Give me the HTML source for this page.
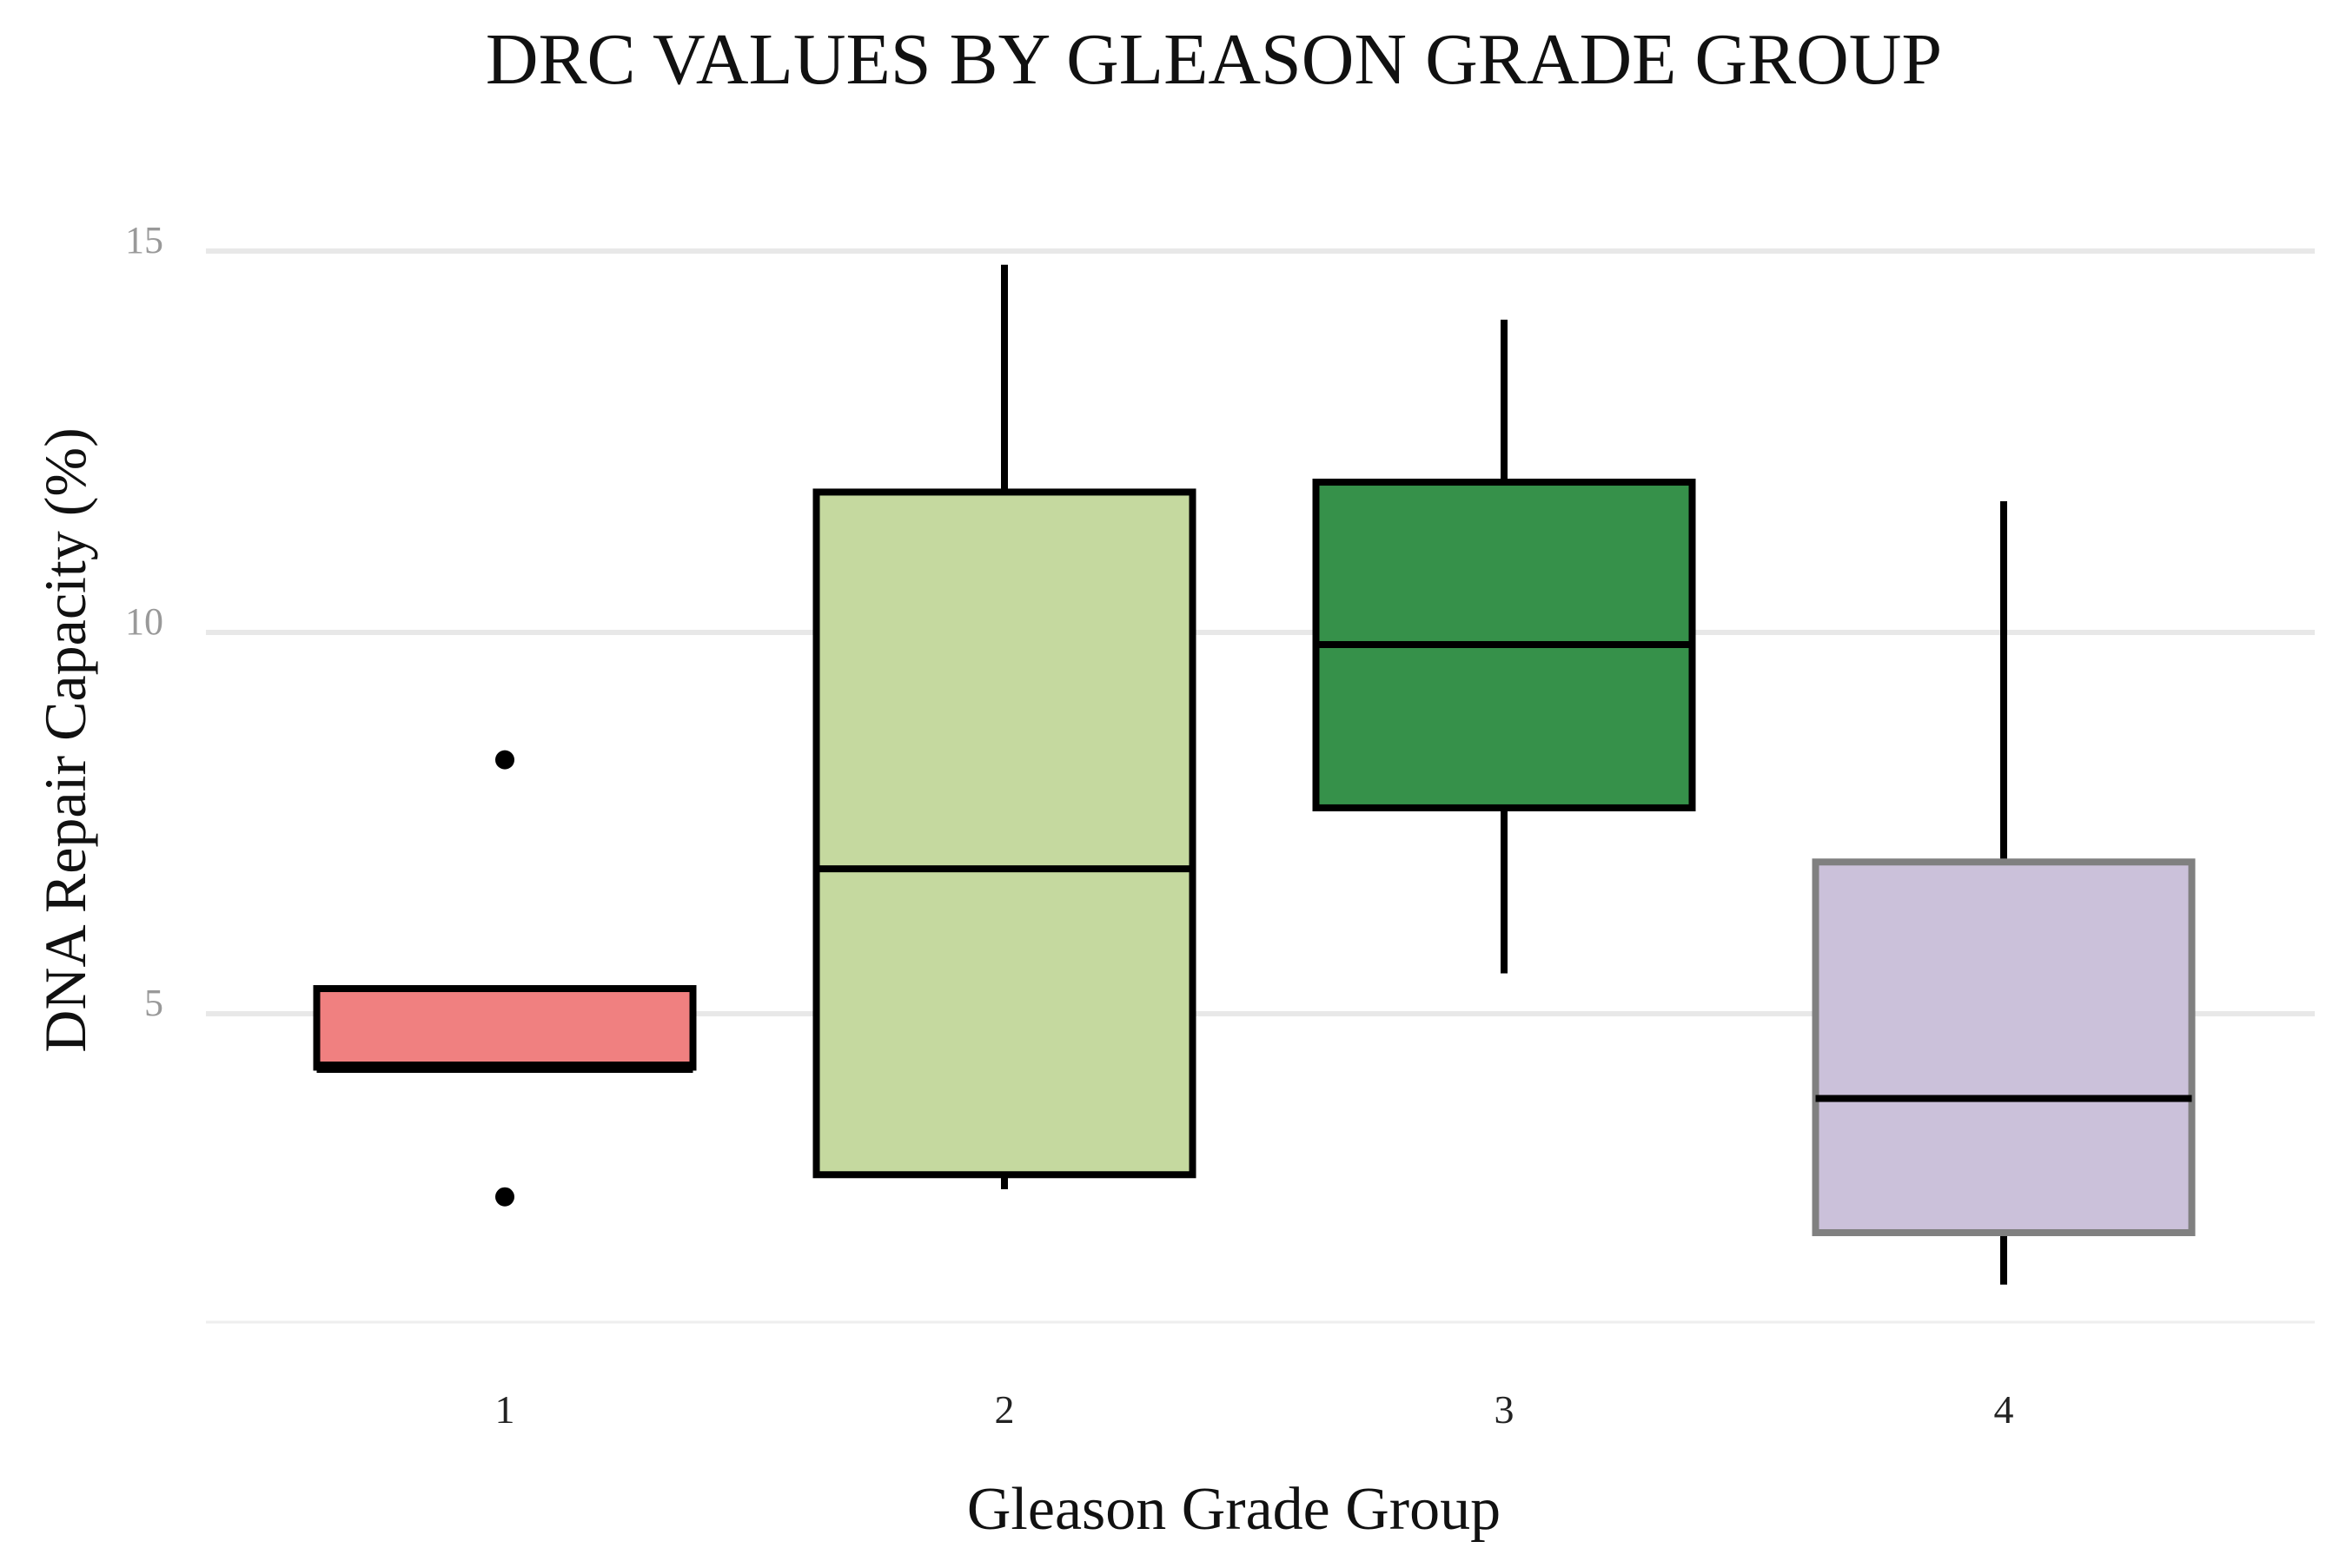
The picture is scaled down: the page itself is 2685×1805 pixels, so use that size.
<!DOCTYPE html>
<html><head><meta charset="utf-8"><style>
html,body{margin:0;padding:0;background:#fff;}
svg{display:block;font-family:"Liberation Serif",serif;}
</style></head><body>
<svg id="chart" width="2685" height="1805" viewBox="0 0 2685 1805">
<text x="1397" y="96" text-anchor="middle" font-size="84" fill="#111">DRC VALUES BY GLEASON GRADE GROUP</text>
<text transform="translate(98,852) rotate(-90)" text-anchor="middle" font-size="68" fill="#111">DNA Repair Capacity (%)</text>
<text x="1420" y="1760" text-anchor="middle" font-size="70" fill="#111">Gleason Grade Group</text>
<g id="grid"></g>
<g id="boxes"></g>
<g id="xticks"></g>
</svg>
<script>
const categories = ["1","2","3","4"];
const whiskerLow = [4.3, 2.7, 5.53, 1.45];
const q1 = [4.3, 2.89, 7.7, 2.13];
const median = [4.3, 6.9, 9.84, 3.89];
const q3 = [5.33, 11.84, 11.97, 6.99];
const whiskerHigh = [5.33, 14.82, 14.1, 11.72];
const outlierGroup = [0, 0];
const outlierValue = [8.33, 2.6];
const yTicks = [5, 10, 15];
const fills = ["#F08080", "#C5D99F", "#36914A", "#CBC1DA"];
const strokes = ["#000", "#000", "#000", "#808080"];

const NS = "http://www.w3.org/2000/svg";
function y(v){ return 1167 - (v - 5) * 87.8; }
function x(i){ return 581 + i * 575; }
const boxW = 433;
function mk(tag, attrs, parent){
  const e = document.createElementNS(NS, tag);
  for (const k in attrs) e.setAttribute(k, attrs[k]);
  parent.appendChild(e); return e;
}
const grid = document.getElementById('grid');
yTicks.forEach(t => {
  const l = mk('line', {x1:237, x2:2664, y1:y(t), y2:y(t), stroke:'#e8e8e8', 'stroke-width':6}, grid);
  
  
  const tx = mk('text', {x:188, y:y(t)+2, 'text-anchor':'end', 'font-size':44, fill:'#999'}, grid);
  tx.textContent = t;
  
  
});
const base = mk('line', {x1:237, x2:2664, y1:1522, y2:1522, stroke:'#eeeeee', 'stroke-width':3}, grid);



const boxes = document.getElementById('boxes');
const xt = document.getElementById('xticks');
categories.forEach((c, i) => {
  const g = mk('g', {}, boxes);
  
  
  const cx = x(i);
  const w1 = mk('line', {x1:cx, x2:cx, y1:y(whiskerHigh[i]), y2:y(q3[i]), stroke:'#000', 'stroke-width':8}, g);
  
  
  const w2 = mk('line', {x1:cx, x2:cx, y1:y(q1[i]), y2:y(whiskerLow[i]), stroke:'#000', 'stroke-width':8}, g);
  
  
  const r = mk('rect', {x:cx-boxW/2, y:y(q3[i]), width:boxW, height:Math.max(1, y(q1[i]) - y(q3[i])), fill:fills[i], stroke:strokes[i], 'stroke-width':8}, g);
  
  
  const m = mk('line', {x1:cx-boxW/2, x2:cx+boxW/2, y1:y(median[i]), y2:y(median[i]), stroke:'#000', 'stroke-width':(median[i]===q1[i]?13:8)}, g);
  
  
  const t = mk('text', {x:cx, y:1638, 'text-anchor':'middle', 'font-size':46, fill:'#222'}, xt);
  t.textContent = c;
  
  
});
outlierValue.forEach((v, k) => {
  const p = mk('circle', {cx:x(outlierGroup[k]), cy:y(v), r:11, fill:'#000'}, boxes);
  
  
});
</script>
</body></html>
